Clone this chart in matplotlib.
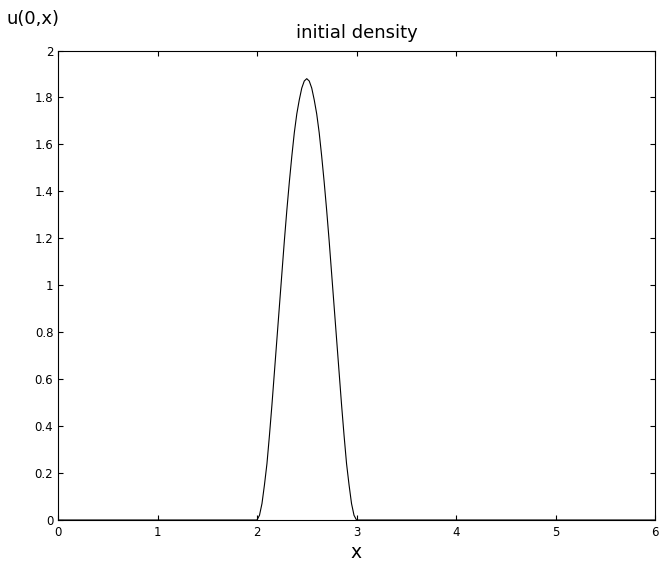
import numpy as np
import matplotlib
matplotlib.use("Agg")
import matplotlib.pyplot as plt

# Anfangsdichte u(0,x): null ausserhalb von [2, 3], Buckel um x = 2.5
x_links = [0.0, 1.0, 2.0]
u_links = [0.0, 0.0, 0.0]

x_buckel = [2.000, 2.025, 2.050, 2.075, 2.100, 2.125, 2.150, 2.175, 2.200, 2.225,
            2.250, 2.275, 2.300, 2.325, 2.350, 2.375, 2.400, 2.425, 2.450, 2.475,
            2.500, 2.525, 2.550, 2.575, 2.600, 2.625, 2.650, 2.675, 2.700, 2.725,
            2.750, 2.775, 2.800, 2.825, 2.850, 2.875, 2.900, 2.925, 2.950, 2.975,
            3.000]
u_buckel = [0.00, 0.02, 0.07, 0.15, 0.24, 0.36, 0.49, 0.63, 0.77, 0.91,
            1.05, 1.19, 1.32, 1.44, 1.55, 1.65, 1.73, 1.79, 1.84, 1.87,
            1.88, 1.87, 1.84, 1.79, 1.73, 1.65, 1.55, 1.44, 1.32, 1.19,
            1.05, 0.91, 0.77, 0.63, 0.49, 0.36, 0.24, 0.15, 0.07, 0.02,
            0.00]

x_rechts = [3.0, 4.0, 5.0, 6.0]
u_rechts = [0.0, 0.0, 0.0, 0.0]

x_ticks = [0, 1, 2, 3, 4, 5, 6]
y_ticks = [0, 0.2, 0.4, 0.6, 0.8, 1, 1.2, 1.4, 1.6, 1.8, 2]
y_tick_labels = ['0', '0.2', '0.4', '0.6', '0.8', '1', '1.2', '1.4', '1.6', '1.8', '2']

x = np.array(x_links + x_buckel[1:-1] + x_rechts)
u = np.array(u_links + u_buckel[1:-1] + u_rechts)

W, H = 659, 561
fig = plt.figure(figsize=(W / 100, H / 100), dpi=100)
ax = fig.add_axes([58 / W, 1 - 520 / H, (655 - 58) / W, (520 - 50.5) / H])

ax.plot(x, u, color='black', linewidth=0.8)

ax.set_xlim(0, 6)
ax.set_ylim(0, 2)
ax.set_xticks(x_ticks)
ax.set_xticklabels([str(t) for t in x_ticks])
ax.set_yticks(y_ticks)
ax.set_yticklabels(y_tick_labels)

ax.tick_params(direction='in', length=3.8, width=0.8, labelsize=8.5,
               top=True, right=True)
ax.tick_params(axis='x', pad=4.5)
ax.tick_params(axis='y', pad=3.4)
for s in ax.spines.values():
    s.set_linewidth(0.8)

ax.set_title('initial density', fontsize=13, pad=8.8)
ax.set_xlabel('x', fontsize=13.5)
ax.xaxis.label.set_va('baseline')
ax.xaxis.set_label_coords(0.5, -(558.3 - 520) / (520 - 50.5))

fig.text(7 / W, 1 - 23.5 / H, 'u(0,x)', fontsize=13, ha='left', va='baseline')

fig.savefig('out.png', dpi=100)
